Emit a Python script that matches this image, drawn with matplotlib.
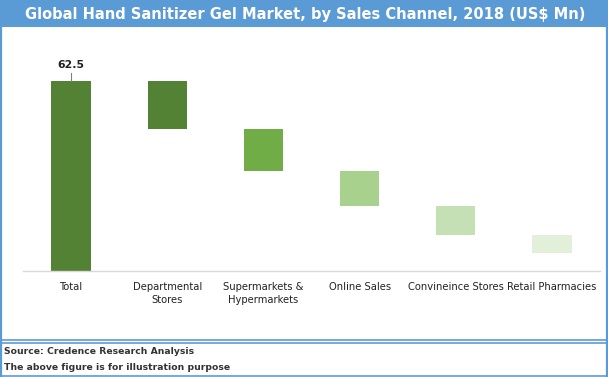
import matplotlib
matplotlib.use("Agg")
import matplotlib.pyplot as plt
from matplotlib.patches import Rectangle
from matplotlib.lines import Line2D

categories = ["Total", "Departmental\nStores", "Supermarkets &\nHypermarkets",
              "Online Sales", "Convineince Stores", "Retail Pharmacies"]
total = 62.5
segments = [15.8, 13.7, 11.7, 9.3, 6.1]
colors = ["#548235", "#548235", "#70AD47", "#A9D18E", "#C5E0B4", "#E2F0D9"]
title = "Global Hand Sanitizer Gel Market, by Sales Channel, 2018 (US$ Mn)"
source_lines = ["Source: Credence Research Analysis", "The above figure is for illustration purpose"]

W, H = 608, 377
fig = plt.figure(figsize=(W / 100, H / 100), dpi=100)
fig.patch.set_facecolor("white")

def fx(x):
    return x / W

def fy(y):
    return 1 - y / H

blue = "#5B9BD5"
# title band
fig.add_artist(Rectangle((0, fy(27)), 1, 27 / H, transform=fig.transFigure,
                         facecolor=blue, edgecolor="none"))
fig.text(fx(305), fy(14), title, color="white", fontsize=10.5, fontweight="bold",
         ha="center", va="center")
# borders
for x in (1, 606.5):
    fig.add_artist(Line2D([fx(x), fx(x)], [fy(27), fy(376)], transform=fig.transFigure,
                          color=blue, lw=1.6))
for y in (339.5, 342.5, 376):
    fig.add_artist(Line2D([fx(0), fx(607)], [fy(y), fy(y)], transform=fig.transFigure,
                          color=blue, lw=1.2))
fig.text(fx(4), fy(351), source_lines[0], color="#333333", fontsize=6.7,
         fontweight="bold", ha="left", va="center")
fig.text(fx(4), fy(367.5), source_lines[1], color="#333333", fontsize=6.7,
         fontweight="bold", ha="left", va="center")

# chart axes: baseline at y=271, 62.5 at y=81
ax = fig.add_axes([fx(23), fy(271), fx(600) - fx(23), (271 - 81) / H])
ax.set_xlim(-0.5, len(categories) - 0.5)
ax.set_ylim(0, total)

bottoms = [0]
heights = [total]
level = total
for s in segments:
    bottoms.append(level - s)
    heights.append(s)
    level -= s

x = list(range(len(categories)))
ax.bar(x, heights, bottom=bottoms, width=0.41, color=colors, edgecolor="none")

ax.plot([0, 0], [total, total + 2.5], color="#7F7F7F", lw=0.8, clip_on=False)
ax.text(0, total + 3.6, f"{total}", ha="center", va="bottom", fontsize=7.8,
        fontweight="bold", color="#222222", clip_on=False)

for s in ("top", "right", "left"):
    ax.spines[s].set_visible(False)
ax.spines["bottom"].set_color("#D9D9D9")
ax.spines["bottom"].set_linewidth(1.0)
ax.set_yticks([])
ax.set_xticks(x)
ax.set_xticklabels(categories, fontsize=7.2, color="#222222", linespacing=1.3)
ax.tick_params(axis="x", length=0, pad=8)
ax.patch.set_alpha(0)

fig.savefig("out.png", dpi=100)
